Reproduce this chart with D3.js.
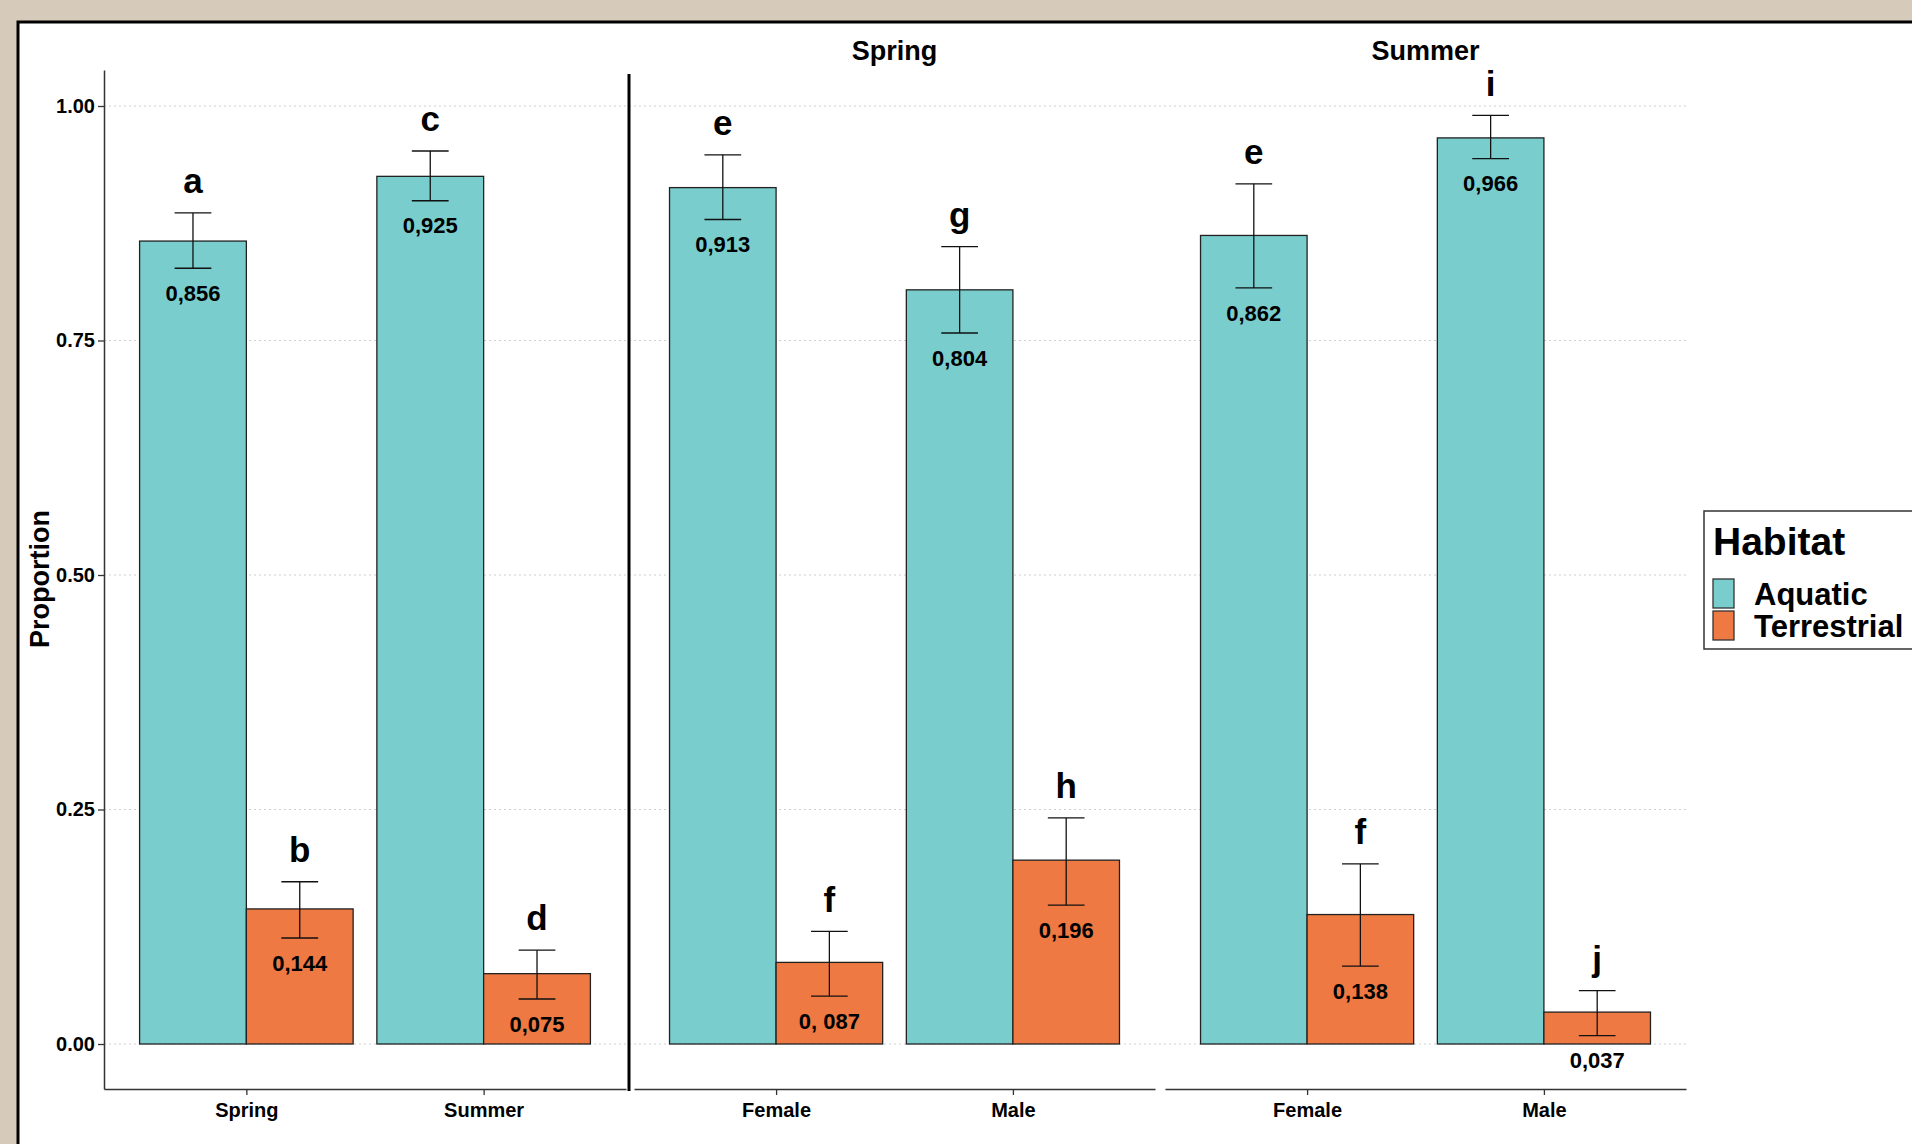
<!DOCTYPE html>
<html>
<head>
<meta charset="utf-8">
<script src="https://cdn.jsdelivr.net/npm/d3@7"></script>
<style>
  body { margin: 0; background: #d6cabb; }
  .narrow { font-family: "Liberation Sans Narrow", "Arial Narrow", "Liberation Sans", sans-serif; font-weight: bold; }
  .wide { font-family: "Liberation Sans", Arial, sans-serif; font-weight: bold; }
</style>
</head>
<body>
<script>
// donnees
const habitats = ['Aquatic', 'Terrestrial']
const panelTitles = ['', 'Spring', 'Summer']
const panelCats = [['Spring', 'Summer'], ['Female', 'Male'], ['Female', 'Male']]

const aquatic = [0.856, 0.925, 0.913, 0.804, 0.862, 0.966]
const aquaticLo = [0.827, 0.899, 0.879, 0.758, 0.806, 0.944]
const aquaticHi = [0.886, 0.952, 0.948, 0.850, 0.917, 0.990]
const aquaticLetters = ['a', 'c', 'e', 'g', 'e', 'i']
const aquaticLabels = ['0,856', '0,925', '0,913', '0,804', '0,862', '0,966']

const terrestrial = [0.144, 0.075, 0.087, 0.196, 0.138, 0.034]
const terrestrialLo = [0.113, 0.048, 0.051, 0.148, 0.083, 0.009]
const terrestrialHi = [0.173, 0.100, 0.120, 0.241, 0.192, 0.057]
const terrestrialLetters = ['b', 'd', 'f', 'h', 'f', 'j']
const terrestrialLabels = ['0,144', '0,075', '0, 087', '0,196', '0,138', '0,037']

const yTicks = [0, 0.25, 0.5, 0.75, 1]

const W = 1912
const H = 1144
const colors = { Aquatic: '#79cdcd', Terrestrial: '#ee7942' }
const panelRanges = [[104, 626], [634, 1155], [1165, 1686]]
const axisTop = 70
const axisBottom = 1089

const svg = d3.select('body').append('svg')
  .attr('width', W)
  .attr('height', H)

// cadre blanc
svg.append('rect')
  .attr('x', 18).attr('y', 22)
  .attr('width', W + 10).attr('height', H + 10)
  .attr('fill', 'white')
  .attr('stroke', 'black')
  .attr('stroke-width', 3)

const y = d3.scaleLinear().domain([0, 1]).range([1044, 106])

// grille pointillee
svg.selectAll('line.grid')
  .data(yTicks)
  .enter()
  .append('line')
  .attr('x1', panelRanges[0][0]).attr('x2', panelRanges[2][1])
  .attr('y1', d => y(d)).attr('y2', d => y(d))
  .attr('stroke', '#d0d0d0')
  .attr('stroke-width', 1.2)
  .attr('stroke-dasharray', '2,3')

// tableau des barres
const rows = []
panelCats.forEach((cats, p) => {
  cats.forEach((c, i) => {
    const k = p * 2 + i
    rows.push({ panel: p, cat: c, habitat: 'Aquatic', value: aquatic[k], lo: aquaticLo[k], hi: aquaticHi[k], letter: aquaticLetters[k], label: aquaticLabels[k] })
    rows.push({ panel: p, cat: c, habitat: 'Terrestrial', value: terrestrial[k], lo: terrestrialLo[k], hi: terrestrialHi[k], letter: terrestrialLetters[k], label: terrestrialLabels[k] })
  })
})

panelCats.forEach((cats, p) => {
  const x = d3.scalePoint().domain(cats).range(panelRanges[p]).padding(0.6)
  const step = x.step()
  const sub = d3.scaleBand().domain(habitats).range([-0.45 * step, 0.45 * step])
  const g = svg.append('g')
  const data = rows.filter(r => r.panel === p)
  const cx = d => x(d.cat) + sub(d.habitat) + sub.bandwidth() / 2

  g.selectAll('rect')
    .data(data)
    .enter()
    .append('rect')
    .attr('x', d => x(d.cat) + sub(d.habitat))
    .attr('y', d => y(d.value))
    .attr('width', sub.bandwidth())
    .attr('height', d => y(0) - y(d.value))
    .attr('fill', d => colors[d.habitat])
    .attr('stroke', '#222')
    .attr('stroke-width', 1.3)

  // barres d'erreur
  const capW = 0.155 * step
  g.selectAll('line.err')
    .data(data)
    .enter()
    .append('line')
    .attr('x1', cx).attr('x2', cx)
    .attr('y1', d => y(d.lo)).attr('y2', d => y(d.hi))
    .attr('stroke', '#111').attr('stroke-width', 1.3)
  g.selectAll('line.capHi')
    .data(data)
    .enter()
    .append('line')
    .attr('x1', d => cx(d) - capW / 2).attr('x2', d => cx(d) + capW / 2)
    .attr('y1', d => y(d.hi)).attr('y2', d => y(d.hi))
    .attr('stroke', '#111').attr('stroke-width', 1.3)
  g.selectAll('line.capLo')
    .data(data)
    .enter()
    .append('line')
    .attr('x1', d => cx(d) - capW / 2).attr('x2', d => cx(d) + capW / 2)
    .attr('y1', d => y(d.lo)).attr('y2', d => y(d.lo))
    .attr('stroke', '#111').attr('stroke-width', 1.3)

  // lettres
  g.selectAll('text.letter')
    .data(data)
    .enter()
    .append('text')
    .attr('class', 'narrow')
    .attr('x', cx)
    .attr('y', d => y(d.hi) - 32)
    .attr('dy', '0.35em')
    .attr('text-anchor', 'middle')
    .attr('font-size', 35)
    .text(d => d.letter)

  // valeurs
  g.selectAll('text.val')
    .data(data)
    .enter()
    .append('text')
    .attr('class', 'narrow')
    .attr('x', cx)
    .attr('y', d => y(d.lo) + 25)
    .attr('dy', '0.35em')
    .attr('text-anchor', 'middle')
    .attr('font-size', 22)
    .text(d => d.label)

  // axe x
  const ax = svg.append('g')
    .attr('transform', `translate(0,${axisBottom})`)
    .call(d3.axisBottom(x).tickSize(6).tickSizeOuter(0))
  ax.select('.domain').attr('stroke', '#333').attr('stroke-width', 1.5)
  ax.selectAll('.tick line').attr('stroke', '#333').attr('stroke-width', 1.3)
  ax.selectAll('.tick text')
    .attr('class', 'narrow')
    .attr('font-size', 20)
    .attr('fill', 'black')
    .attr('dy', '0.95em')

  if (panelTitles[p]) {
    svg.append('text')
      .attr('class', 'narrow')
      .attr('x', (panelRanges[p][0] + panelRanges[p][1]) / 2)
      .attr('y', 51)
      .attr('dy', '0.35em')
      .attr('text-anchor', 'middle')
      .attr('font-size', 27)
      .text(panelTitles[p])
  }
})

// axe y
const yAxisScale = d3.scaleLinear().domain([y.invert(axisBottom), y.invert(axisTop)]).range([axisBottom, axisTop])
const ay = svg.append('g')
  .attr('transform', `translate(${panelRanges[0][0]},0)`)
  .call(d3.axisLeft(yAxisScale).tickValues(yTicks).tickFormat(d3.format('.2f')).tickSize(6).tickSizeOuter(0))
ay.select('.domain').attr('stroke', '#333').attr('stroke-width', 1.5)
ay.selectAll('.tick line').attr('stroke', '#333').attr('stroke-width', 1.3)
ay.selectAll('.tick text')
  .attr('class', 'narrow')
  .attr('font-size', 20)
  .attr('fill', 'black')

svg.append('text')
  .attr('class', 'wide')
  .attr('transform', `translate(40,579) rotate(-90)`)
  .attr('dy', '0.35em')
  .attr('text-anchor', 'middle')
  .attr('font-size', 27)
  .text('Proportion')

// separateur entre les panneaux
svg.append('line')
  .attr('x1', 629).attr('x2', 629)
  .attr('y1', 74).attr('y2', axisBottom + 2)
  .attr('stroke', 'black')
  .attr('stroke-width', 3)

// legende
const leg = svg.append('g').attr('transform', 'translate(1704,511)')
leg.append('rect')
  .attr('width', 230).attr('height', 138)
  .attr('fill', 'white')
  .attr('stroke', '#333')
  .attr('stroke-width', 1.5)
leg.append('text')
  .attr('class', 'wide')
  .attr('x', 9).attr('y', 44)
  .attr('font-size', 39)
  .text('Habitat')
leg.selectAll('rect.key')
  .data(habitats)
  .enter()
  .append('rect')
  .attr('x', 9)
  .attr('y', (d, i) => 68 + i * 32)
  .attr('width', 21).attr('height', 29)
  .attr('fill', d => colors[d])
  .attr('stroke', '#333')
  .attr('stroke-width', 1.3)
leg.selectAll('text.key')
  .data(habitats)
  .enter()
  .append('text')
  .attr('class', 'wide')
  .attr('x', 50)
  .attr('y', (d, i) => 83 + i * 32)
  .attr('dy', '0.35em')
  .attr('font-size', 31)
  .text(d => d)
</script>
</body>
</html>
